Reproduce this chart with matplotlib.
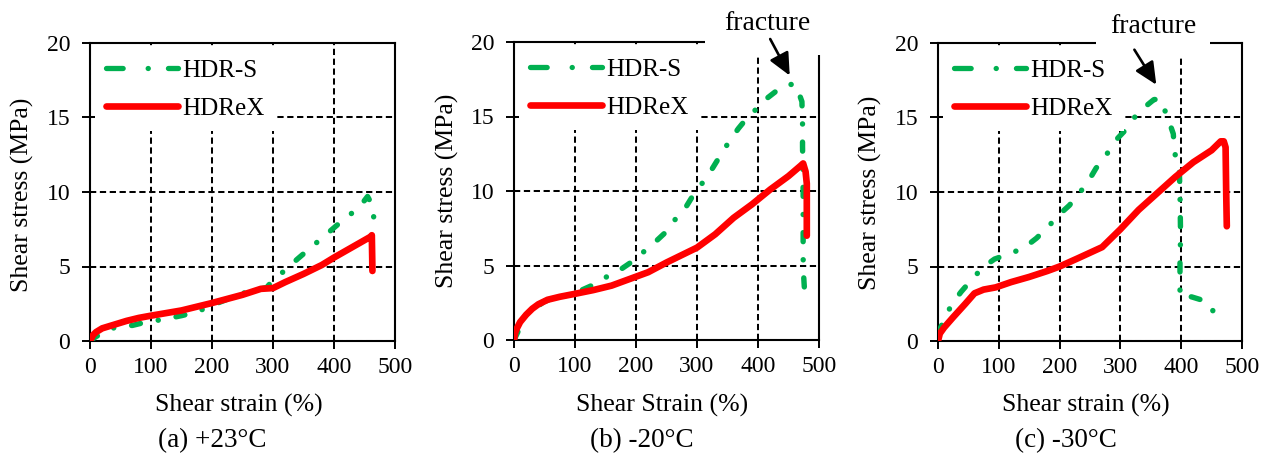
import matplotlib
matplotlib.use("Agg")
import matplotlib.pyplot as plt
from matplotlib.lines import Line2D
from matplotlib.patches import Rectangle

plt.rcParams['font.family'] = ['Liberation Serif', 'DejaVu Serif']
plt.rcParams['lines.scale_dashes'] = False
plt.rcParams['mathtext.default'] = 'regular'

GREEN = '#00B050'
RED = '#FF0000'

# ---------------- data ----------------
# (a) +23°C
a_hdrs_x = [0, 10, 40, 70, 90, 120, 150, 175, 200, 250, 290, 300, 320, 340, 360, 380, 400, 420, 440, 455, 463, 465, 465]
a_hdrs_y = [0, 0.3, 0.9, 1.05, 1.25, 1.45, 1.7, 1.95, 2.4, 3.2, 3.6, 4.1, 4.75, 5.5, 6.2, 6.9, 7.6, 8.3, 8.9, 9.7, 9.1, 8.5, 7.2]
a_hdrex_x = [0, 5, 10, 20, 40, 60, 80, 100, 150, 200, 250, 280, 300, 320, 350, 380, 400, 430, 460, 462, 463]
a_hdrex_y = [0, 0.4, 0.6, 0.85, 1.1, 1.35, 1.55, 1.7, 2.05, 2.55, 3.1, 3.5, 3.55, 3.95, 4.5, 5.1, 5.6, 6.3, 7.0, 7.1, 4.7]

# (b) -20°C
b_hdrs_x = [0, 20, 50, 100, 130, 145, 170, 195, 212, 232, 253, 266, 283, 295, 310, 325, 340, 354, 368, 384, 400, 414, 436, 450, 462, 472, 473, 473, 474, 474, 474, 475, 476, 478, 480]
b_hdrs_y = [0, 1.7, 2.6, 3.15, 3.7, 4.1, 4.6, 5.3, 5.9, 6.6, 7.4, 8.2, 9.0, 9.8, 10.6, 11.5, 12.5, 13.4, 14.2, 15.0, 15.6, 16.2, 16.9, 17.15, 17.15, 16.0, 14.5, 13.0, 10.0, 7.2, 5.5, 4.2, 3.5, 2.8, 2.5]
b_hdrex_x = [0, 2, 5, 10, 20, 30, 40, 55, 75, 100, 130, 160, 190, 220, 250, 280, 300, 330, 360, 390, 420, 450, 470, 474, 478, 480, 480]
b_hdrex_y = [0, 0.5, 0.8, 1.2, 1.7, 2.1, 2.4, 2.7, 2.9, 3.1, 3.35, 3.65, 4.1, 4.55, 5.2, 5.8, 6.2, 7.1, 8.2, 9.1, 10.1, 11.0, 11.7, 11.85, 11.3, 10.5, 7.0]

# (c) -30°C
c_hdrs_x = [0, 14, 25, 38, 55, 74, 93, 121, 143, 162, 181, 197, 216, 233, 247, 260, 277, 293, 307, 323, 343, 355, 365, 377, 387, 389, 397, 398, 399, 398, 398, 403, 418, 434, 452, 452]
c_hdrs_y = [0.5, 1.8, 2.6, 3.3, 4.1, 4.95, 5.5, 5.9, 6.3, 6.9, 7.65, 8.4, 9.1, 9.95, 10.7, 11.6, 12.5, 13.5, 14.1, 15.0, 15.8, 16.2, 16.25, 15.1, 13.9, 12.7, 11.3, 9.9, 7.0, 5.4, 3.0, 3.1, 2.95, 2.75, 2.2, 1.75]
c_hdrex_x = [0, 3, 10, 25, 45, 60, 75, 95, 120, 150, 180, 200, 230, 270, 300, 330, 360, 390, 420, 450, 465, 470, 473, 474, 475]
c_hdrex_y = [0, 0.5, 0.9, 1.6, 2.5, 3.2, 3.45, 3.6, 3.95, 4.3, 4.7, 5.0, 5.55, 6.3, 7.5, 8.8, 9.9, 11.0, 12.0, 12.8, 13.4, 13.4, 13.0, 10.0, 7.7]

x_ticks = [0, 100, 200, 300, 400, 500]
y_ticks = [0, 5, 10, 15, 20]
series_labels = ['HDR-S', 'HDReX']
x_labels = ['Shear strain (%)', 'Shear Strain (%)', 'Shear strain (%)']
captions = ['(a) +23°C', '(b) -20°C', '(c) -30°C']
y_label = 'Shear stress (MPa)'
fracture_text = 'fracture'

# fracture annotation: text position, arrow start, arrow tip (data units)
b_frac_text = (416, 21.25)
b_frac_start = (420, 20.2)
b_frac_tip = (452, 17.75)
c_frac_text = (354, 21.1)
c_frac_start = (323, 19.55)
c_frac_tip = (359, 17.2)

panels = [
    (a_hdrs_x, a_hdrs_y, a_hdrex_x, a_hdrex_y),
    (b_hdrs_x, b_hdrs_y, b_hdrex_x, b_hdrex_y),
    (c_hdrs_x, c_hdrs_y, c_hdrex_x, c_hdrex_y),
]

# ---------------- layout (pixels) ----------------
W, H = 1264, 453
fig = plt.figure(figsize=(W / 100, H / 100), dpi=100)

axes_px = [(90, 395, 43, 341), (514, 819, 42, 340), (938, 1242, 43, 341)]
ylabel_px = [(22, 195), (447, 191), (870, 193)]
xlabel_y = 405
caption_px = [(212, 441), (642, 441), (1066, 441)]

DATA_DASH = (0, (6.5, 13.0, 0.1, 13.0))
LEG_DASH = (0, (12.0, 18.0, 0.1, 14.5))

def fx(x):
    return x / W

def fy(y):
    return 1 - y / H

axes = []
for i, (l, r, t, b) in enumerate(axes_px):
    ax = fig.add_axes([fx(l), fy(b), (r - l) / W, (b - t) / H])
    axes.append(ax)
    hx, hy, rx, ry = panels[i]
    ax.plot(hx, hy, color=GREEN, lw=3.9, linestyle=DATA_DASH,
            dash_capstyle='round', solid_capstyle='round', zorder=3)
    ax.plot(rx, ry, color=RED, lw=4.8, solid_capstyle='round',
            solid_joinstyle='round', zorder=3.2)
    ax.set_xlim(0, 500)
    ax.set_ylim(0, 20)
    ax.set_xticks(x_ticks)
    ax.set_yticks(y_ticks)
    ax.grid(True, color='black', linestyle=(0, (4.5, 2.6)), linewidth=1.45)
    ax.set_axisbelow(True)
    ax.tick_params(direction='out', length=5.8, width=1.4, labelsize=17,
                   top=False, right=False)
    ax.tick_params(axis='y', pad=8.5)
    ax.tick_params(axis='x', pad=5.5)
    for s in ax.spines.values():
        s.set_linewidth(1.5)
        s.set_color('black')

    handles = [
        Line2D([], [], color=GREEN, lw=3.8, linestyle=LEG_DASH, dash_capstyle='round'),
        Line2D([], [], color=RED, lw=4.8, solid_capstyle='round'),
    ]
    leg = ax.legend(handles, series_labels, loc='upper left', bbox_to_anchor=(0, 1),
                    fontsize=18, frameon=True, fancybox=False, framealpha=1,
                    edgecolor='none', facecolor='white', handlelength=2.85,
                    handletextpad=0.2, labelspacing=0.62, borderpad=0.45,
                    borderaxespad=0.2)
    leg.set_zorder(5)

    # labels
    fig.text(fx(ylabel_px[i][0]), fy(ylabel_px[i][1]), y_label, rotation=90,
             ha='center', va='center', fontsize=18.5)
    fig.text(fx((l + r) / 2 - 4), fy(xlabel_y), x_labels[i],
             ha='center', va='center', fontsize=18.5)
    fig.text(fx(caption_px[i][0]), fy(caption_px[i][1]), captions[i],
             ha='center', va='center', fontsize=19.5)

ARROW = dict(arrowstyle='-|>,head_length=0.9,head_width=0.42', color='black',
             lw=1.9, shrinkA=0, shrinkB=0, mutation_scale=15)

# (b)
axb = axes[1]
axb.add_patch(Rectangle((0.627, 0.957), 0.45, 0.3, transform=axb.transAxes,
                        facecolor='white', edgecolor='none', clip_on=False, zorder=4))
axb.text(*b_frac_text, fracture_text, ha='center', va='center', fontsize=20,
         zorder=6, clip_on=False)
axb.annotate('', xy=b_frac_tip, xytext=b_frac_start, annotation_clip=False,
             zorder=6, arrowprops=ARROW)
# (c)
axc = axes[2]
axc.add_patch(Rectangle((0.52, 0.95), 0.375, 0.3, transform=axc.transAxes,
                        facecolor='white', edgecolor='none', clip_on=False, zorder=4))
axc.text(*c_frac_text, fracture_text, ha='center', va='center', fontsize=20,
         zorder=6, clip_on=False)
axc.annotate('', xy=c_frac_tip, xytext=c_frac_start, annotation_clip=False,
             zorder=6, arrowprops=ARROW)

fig.savefig('out.png', dpi=100)
